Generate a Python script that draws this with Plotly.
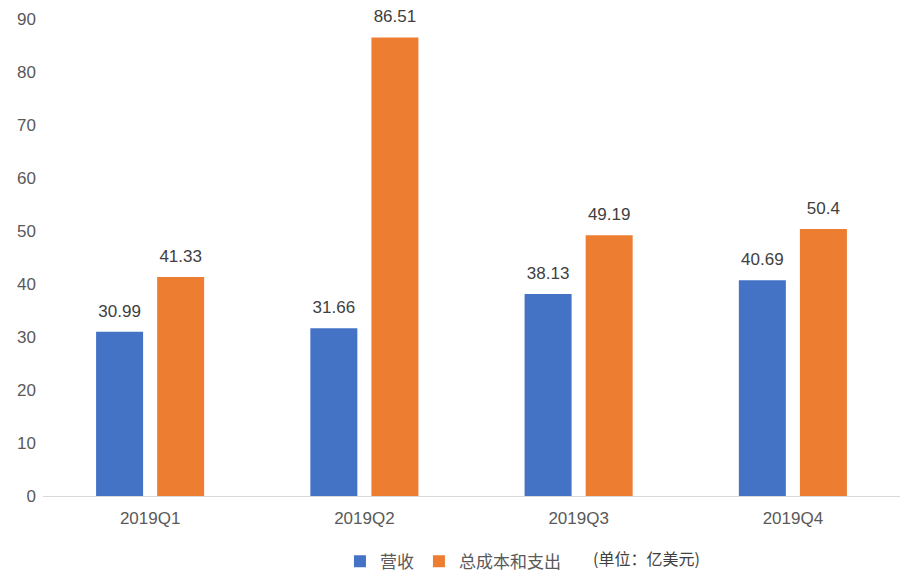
import plotly.graph_objects as go

quarters = ['2019Q1', '2019Q2', '2019Q3', '2019Q4']
revenue = [30.99, 31.66, 38.13, 40.69]
total_cost = [41.33, 86.51, 49.19, 50.4]
y_ticks = [0, 10, 20, 30, 40, 50, 60, 70, 80, 90]

num_font = 'Liberation Sans, Arial, sans-serif'
cjk_font = 'Noto Sans CJK SC, sans-serif'

series = [('营收', revenue, '#4472C4', 'a'), ('总成本和支出', total_cost, '#ED7D31', 'b')]

fig = go.Figure()
for name, vals, color, grp in series:
    fig.add_trace(go.Bar(
        x=quarters, y=vals, name=name, offsetgroup=grp,
        marker=dict(color=color, line=dict(width=0)),
    ))
# value labels: invisible markers so the text sits a bit above each bar
for name, vals, color, grp in series:
    fig.add_trace(go.Scatter(
        x=quarters, y=vals, mode='markers+text', offsetgroup=grp,
        orientation='v', showlegend=False, hoverinfo='skip',
        marker=dict(size=16, color='rgba(0,0,0,0)'),
        text=[str(v) for v in vals], textposition='top center',
        textfont=dict(family=num_font, size=17, color='#404040'),
        cliponaxis=False,
    ))

fig.update_layout(
    width=918, height=583,
    margin=dict(l=35, r=26, t=11, b=95, autoexpand=False),
    plot_bgcolor='white', paper_bgcolor='white',
    font=dict(family=num_font, size=17, color='#595959'),
    barmode='group', bargap=0.43, bargroupgap=0.23,
    scattermode='group', scattergap=0.43,
    showlegend=True,
    legend=dict(orientation='h', x=0.3465, xanchor='left', y=-0.1, yanchor='top',
                font=dict(family=cjk_font, size=17, color='#595959'),
                itemwidth=30, traceorder='normal'),
    annotations=[dict(text='(单位：亿美元)', xref='paper', yref='paper',
                      x=0.639, y=-0.1, xanchor='left', yanchor='top',
                      showarrow=False,
                      font=dict(family=cjk_font, size=16, color='#404040'))],
)
fig.update_xaxes(showline=True, linecolor='#D9D9D9', linewidth=1,
                 ticks='', automargin=False, ticklabelstandoff=7,
                 tickfont=dict(family=num_font, size=17, color='#595959'))
fig.update_yaxes(range=[0, 90], tickvals=y_ticks, showgrid=False,
                 zeroline=False, showline=False, ticks='', automargin=False,
                 ticklabelstandoff=6,
                 tickfont=dict(family=num_font, size=17, color='#595959'))

fig.write_html('out.html')
